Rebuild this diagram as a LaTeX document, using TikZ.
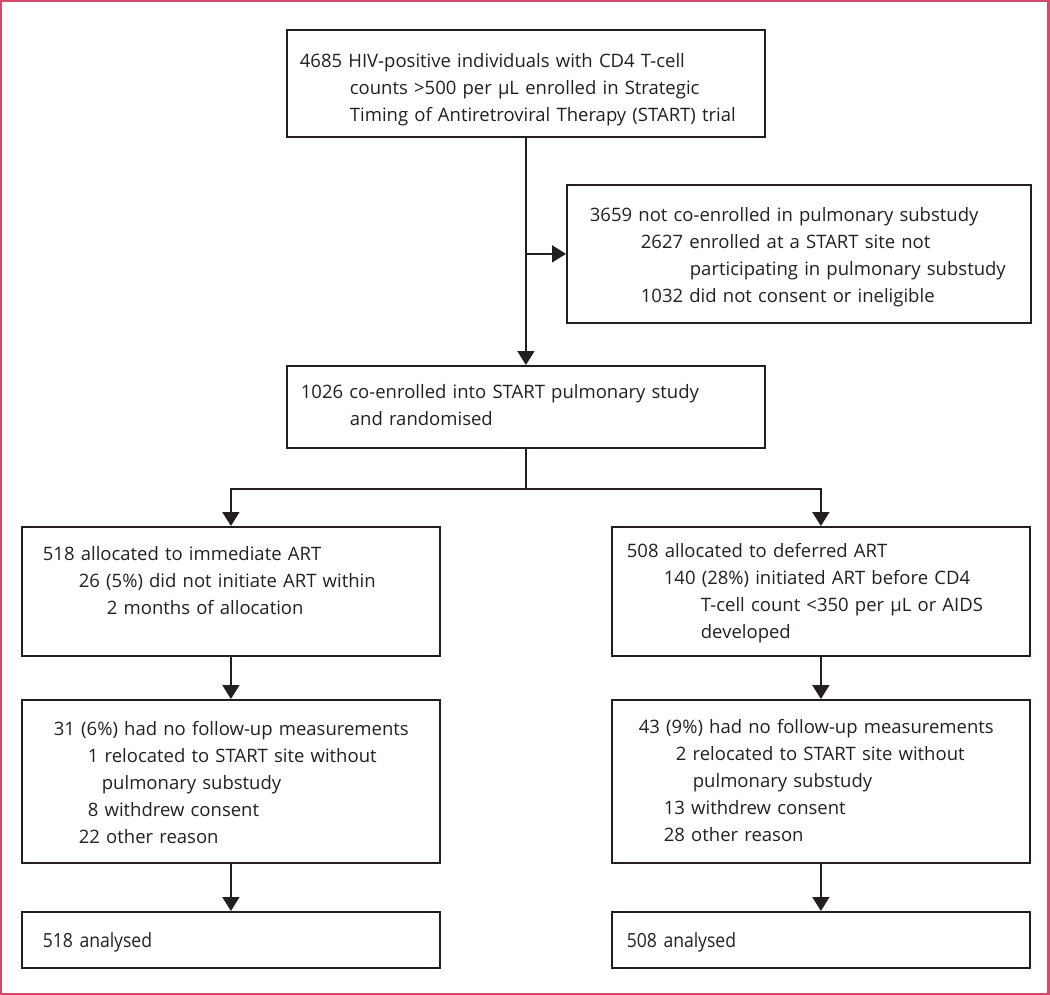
\documentclass[tikz,border=0pt]{standalone}
\usepackage{fontspec}
\setmainfont{Open Sans}
\newfontfamily\narrowfont[FakeStretch=0.9]{Open Sans}
\usetikzlibrary{arrows.meta}
\definecolor{frame}{RGB}{214,72,108}
\definecolor{ink}{RGB}{35,31,32}
\begin{document}
\begin{tikzpicture}[x=1pt, y=-1pt, >={Triangle[length=14pt,width=17pt]}, font=\fontsize{18.5}{27}\selectfont,
		box/.style={draw=ink, line width=1.8pt, anchor=north west, inner sep=0pt, align=left, text=ink, text height=#1pt},
		link/.style={draw=ink, line width=1.8pt}]
		\def\lx{21} \def\rx{611} \def\cw{418}
		\useasboundingbox (0,0) rectangle (1050,995);
		\draw[frame, line width=2.4pt] (1.2,1.2) rectangle (1048.5,993.8);
		% trial and substudy
		\node[box=38, text width=478pt, text depth=69pt] (enrol) at (286,29) {\hspace*{13pt}4685 HIV-positive individuals with CD4 T-cell\\\hspace*{63pt}counts >500 per µL enrolled in Strategic\\\hspace*{63pt}Timing of Antiretroviral Therapy (START) trial};
		\node[box=37, text width=464pt, text depth=101pt] (excl) at (566,184) {\hspace*{23pt}3659 not co-enrolled in pulmonary substudy\\\hspace*{74pt}2627 enrolled at a START site not\\\hspace*{123pt}participating in pulmonary substudy\\\hspace*{74pt}1032 did not consent or ineligible};
		\node[box=33, text width=478pt, text depth=49pt] (coenrol) at (286,365) {\hspace*{14pt}1026 co-enrolled into START pulmonary study\\\hspace*{63pt}and randomised};
		% two arms
		\node[box=34, text width=\cw pt, text depth=95pt] (immed) at (\lx,526) {\hspace*{21pt}518 allocated to immediate ART\\\hspace*{57pt}26 (5\%) did not initiate ART within\\\hspace*{85pt}2 months of allocation};
		\node[box=31, text width=\cw pt, text depth=98pt] (defer) at (\rx,526) {\hspace*{15pt}508 allocated to deferred ART\\\hspace*{52pt}140 (28\%) initiated ART before CD4\\\hspace*{89pt}T-cell count <350 per µL or AIDS\\\hspace*{89pt}developed};
		\node[box=36, text width=\cw pt, text depth=127pt] (lossI) at (\lx,699) {\hspace*{32pt}31 (6\%) had no follow-up measurements\\\hspace*{66pt}1 relocated to START site without\\\hspace*{80pt}pulmonary substudy\\\hspace*{66pt}8 withdrew consent\\\hspace*{57pt}22 other reason};
		\node[box=34, text width=\cw pt, text depth=129pt] (lossD) at (\rx,699) {\hspace*{27pt}43 (9\%) had no follow-up measurements\\\hspace*{64pt}2 relocated to START site without\\\hspace*{81pt}pulmonary substudy\\\hspace*{52pt}13 withdrew consent\\\hspace*{52pt}28 other reason};
		\node[box=36, text width=\cw pt, text depth=20pt, font=\narrowfont\fontsize{19.5}{27}\selectfont] (anaI) at (\lx,911) {\hspace*{21pt}518 analysed};
		\node[box=36, text width=\cw pt, text depth=20pt, font=\narrowfont\fontsize{19.5}{27}\selectfont] (anaD) at (\rx,911) {\hspace*{15pt}508 analysed};
		% connectors
		\path (coenrol.south) ++(0,40) coordinate (split);
		\draw[link,->] (enrol) -- (coenrol);
		\draw[link,->] (excl.west -| enrol.south) -- (excl.west);
		\draw[link] (coenrol.south) -- (split);
		\draw[link,->] (split) -| (immed.north);
		\draw[link,->] (split) -| (defer.north);
		\draw[link,->] (immed) -- (lossI);
		\draw[link,->] (defer) -- (lossD);
		\draw[link,->] (lossI) -- (anaI);
		\draw[link,->] (lossD) -- (anaD);
\end{tikzpicture}
\end{document}
